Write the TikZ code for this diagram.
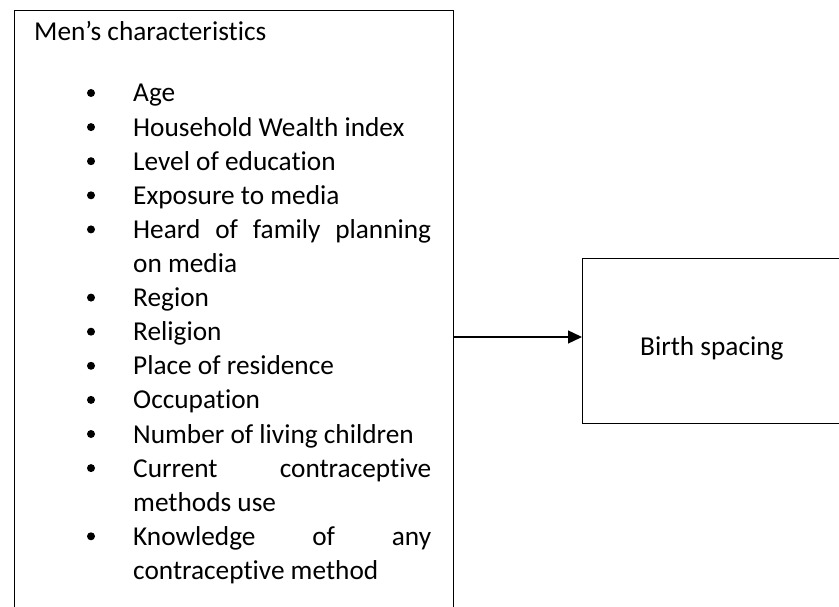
\documentclass[tikz,border=0pt]{standalone}
\usepackage{fontspec}
\setmainfont{Carlito}[Ligatures={NoCommon}]
\usetikzlibrary{arrows.meta}
\begin{document}
\begin{tikzpicture}[x=1pt,y=-1pt,
  boxline/.style={draw=black, line width=1.3pt, inner sep=0pt},
  txt/.style={anchor=base west, inner sep=0pt, font=\fontsize{27.3pt}{33pt}\selectfont},
  bul/.style={circle, fill=black, minimum size=8pt, inner sep=0pt},
  arr/.style={-{Triangle[length=14pt,width=13pt]}, line width=1.3pt}]
\useasboundingbox (0,0) rectangle (839,607);
% boxes
\node[boxline, anchor=north west, minimum width=439pt, minimum height=640pt] (men) at (14,10) {};
\node[boxline, anchor=north west, minimum width=290pt, minimum height=165pt] (bs) at (582,258) {};
\node[txt] (bstext) at (640,355) {Birth spacing};
% title
\node[txt] (title) at (34,41) {Men’s characteristics};
% items
\def\ys{102}\def\dy{34.1}
\foreach \n/\k/\t in {
  1/0/{Age},
  2/1/{Household Wealth index},
  3/2/{Level of education},
  4/3/{Exposure to media},
  5/4/{\hbox to 298pt{Heard\hfill of\hfill family\hfill planning}},
  7/6/{Region},
  8/7/{Religion},
  9/8/{Place of residence},
  10/9/{Occupation},
  11/10/{Number of living children},
  12/11/{\hbox to 298pt{Current\hfill contraceptive}},
  14/13/{\hbox to 298pt{Knowledge\hfill of\hfill any}}}{
  \node[txt] (item\n) at (133,\ys+\k*\dy) {\t};
  \node[bul] (dot\n) at (91,\ys+\k*\dy-9) {};
}
\node[txt] (item6) at (133,\ys+5*\dy) {on media};
\node[txt] (item13) at (133,\ys+12*\dy) {methods use};
\node[txt] (item15) at (133,\ys+14*\dy) {contraceptive method};
% connector
\coordinate (ay) at (0,337);
\draw[arr] (men.east |- ay) -- (bs.west |- ay);
\end{tikzpicture}
\end{document}
